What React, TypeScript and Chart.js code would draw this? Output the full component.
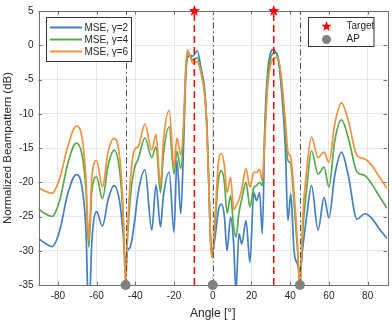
import React, { useEffect, useRef } from "react";
import { Chart, registerables } from "chart.js";

Chart.register(...registerables);

// ---- data ----
const ANGLES = [
  -90, -86.5, -83, -79, -75, -70.5, -67.5, -65.5, -64, -62.5, -60, -57, -54, -51, -48, -46.3, -45, -44, -42.5, -40.5,
  -38.5, -35, -31.5, -29.3, -27, -25.5, -22.5, -20, -18.5, -16.5, -15, -14, -13, -11.5, -10.3, -8, -6, -4.3, -3, -2,
  -1, 0, 1.2, 3, 4.5, 6, 7.4, 9.2, 10.8, 12, 13.5, 15, 17.2, 19.2, 21.2, 22.6, 24.2, 25.6, 27, 28.5,
  30, 31.2, 32.5, 33.5, 35.5, 37.5, 38.8, 40.3, 42, 43.8, 45, 46.5, 48.5, 51, 54.4, 57.5, 60, 63, 66.5, 70,
  74.5, 78.5, 82, 86, 90,
];
const MSE_G2 = [
  -28.2, -28.9, -29.4, -27.0, -21.8, -18.9, -20.8, -27, -40, -29, -24.3, -26.4, -22.5, -20.5, -23, -27.5, -32, -30, -29.4, -26,
  -21.5, -18.2, -27, -20.4, -26.5, -22, -18.5, -27.3, -16.8, -24.6, -14, -5, -1.7, -1.5, -1.6, -0.8, -3.5, -6.2, -12, -20.5,
  -29, -30, -28, -24, -23.2, -25, -30, -25.1, -29, -36, -27.5, -29, -25.6, -31.7, -21.5, -22.7, -21.5, -27.5, -11, -3.5,
  -1.0, -0.6, -1.0, -1.6, -6.5, -15, -25.6, -21.7, -30, -32, -33, -29.5, -25, -20.5, -27, -22.2, -25.2, -19, -15.6, -19,
  -25.4, -24.6, -25.2, -26.8, -28.2,
];
const MSE_G4 = [
  -23.9, -24.6, -25.0, -22.6, -17.4, -14.3, -16.0, -21, -29.5, -21.5, -19.2, -22.4, -17.5, -15.3, -18.5, -25, -34, -28, -22, -18,
  -16.6, -13.5, -16.4, -14.8, -21.5, -16, -11.9, -18.8, -15.5, -18, -12, -4.3, -1.1, -1.6, -2.2, -1.8, -3.8, -6.5, -12, -20.5,
  -29, -30.5, -26, -19.5, -18.3, -20, -24.5, -22, -26.5, -28, -24.5, -22.5, -20, -23.6, -20.8, -20.5, -20, -20.5, -12, -4.5,
  -1.8, -1.2, -1.1, -1.5, -5.5, -12.5, -16.8, -17.3, -23, -30, -35.5, -27, -21, -15.4, -18.8, -17.8, -20.7, -14, -10.9, -13.5,
  -18.5, -19, -20.2, -22, -23.8,
];
const MSE_G6 = [
  -20.8, -21.3, -21.6, -19.4, -14.9, -11.8, -13.5, -19.5, -28.5, -19.5, -16.8, -20.7, -15.5, -13.6, -16.5, -24, -35.5, -27, -19.5, -15.3,
  -14.8, -11.5, -15.3, -13.0, -20.5, -14, -9.5, -17.8, -13.5, -16, -11, -3.5, -0.7, -1.8, -2.6, -2.4, -4.2, -7, -12.5, -21,
  -29.5, -31, -25, -17, -15.8, -17.5, -21.5, -19.3, -24, -23.5, -22.6, -21, -18, -20.7, -18.5, -18.6, -18.1, -19.8, -13, -5.5,
  -2.7, -2.0, -1.8, -1.7, -4.8, -11, -15.5, -16.4, -21.5, -29, -36, -25, -18.3, -13.4, -16.4, -15.6, -17.1, -11.5, -8.4, -11,
  -16.1, -16.6, -17.5, -19.2, -20.9,
];
const SERIES_LABELS = ["MSE, \u03b3=2", "MSE, \u03b3=4", "MSE, \u03b3=6"];
const TARGET_ANGLES = [-9.5, 31.5];
const AP_ANGLES = [-45, 0, 45];
const MARKER_LABELS = ["Target", "AP"];
const X_TICKS = [-80, -60, -40, -20, 0, 20, 40, 60, 80];
const Y_TICKS = [-35, -30, -25, -20, -15, -10, -5, 0, 5];
const X_RANGE = [-90, 90];
const Y_RANGE = [-35, 5];

const COLORS = ["#437fc0", "#56a94b", "#f3913f"];
const TARGET_COLOR = "#ff0000";
const AP_COLOR = "#808080";
const FONT = "'Liberation Sans', Arial, Helvetica, sans-serif";
const TEXT_COLOR = "#262626";

function starPath(ctx: CanvasRenderingContext2D, cx: number, cy: number, R: number, r: number) {
  ctx.beginPath();
  for (let i = 0; i < 10; i++) {
    const rad = i % 2 === 0 ? R : r;
    const ang = -Math.PI / 2 + (i * Math.PI) / 5;
    const px = cx + rad * Math.cos(ang);
    const py = cy + rad * Math.sin(ang);
    if (i === 0) ctx.moveTo(px, py);
    else ctx.lineTo(px, py);
  }
  ctx.closePath();
}

const extras = {
  id: "extras",
  afterDatasetsDraw(chart: any) {
    const { ctx, scales } = chart;
    const x = scales.x;
    const y = scales.y;
    const yTop = y.getPixelForValue(Y_RANGE[1]);
    const yBot = y.getPixelForValue(Y_RANGE[0]);
    ctx.save();
    // AP dash-dot lines
    ctx.strokeStyle = "#505050";
    ctx.lineWidth = 1;
    ctx.setLineDash([6, 3, 1.5, 3]);
    AP_ANGLES.forEach((v) => {
      const px = Math.round(x.getPixelForValue(v)) + 0.5;
      ctx.beginPath();
      ctx.moveTo(px, yBot);
      ctx.lineTo(px, yTop);
      ctx.stroke();
    });
    // target dashed lines
    ctx.strokeStyle = TARGET_COLOR;
    ctx.lineWidth = 1.5;
    ctx.setLineDash([7, 4]);
    TARGET_ANGLES.forEach((v) => {
      const px = x.getPixelForValue(v);
      ctx.beginPath();
      ctx.moveTo(px, yBot);
      ctx.lineTo(px, yTop);
      ctx.stroke();
    });
    ctx.setLineDash([]);
    // frame
    const a = chart.chartArea;
    ctx.strokeStyle = "#6e6e6e";
    ctx.lineWidth = 1;
    ctx.strokeRect(Math.round(a.left) + 0.5, Math.round(a.top) + 0.5, Math.round(a.right - a.left), Math.round(a.bottom - a.top));
    // inward ticks
    const tl = 3.5;
    X_TICKS.forEach((v) => {
      const px = Math.round(x.getPixelForValue(v)) + 0.5;
      ctx.beginPath();
      ctx.moveTo(px, a.bottom);
      ctx.lineTo(px, a.bottom - tl);
      ctx.moveTo(px, a.top);
      ctx.lineTo(px, a.top + tl);
      ctx.stroke();
    });
    Y_TICKS.forEach((v) => {
      const py = Math.round(y.getPixelForValue(v)) + 0.5;
      ctx.beginPath();
      ctx.moveTo(a.left, py);
      ctx.lineTo(a.left + tl, py);
      ctx.moveTo(a.right, py);
      ctx.lineTo(a.right - tl, py);
      ctx.stroke();
    });
    // markers
    ctx.fillStyle = TARGET_COLOR;
    TARGET_ANGLES.forEach((v) => {
      starPath(ctx, x.getPixelForValue(v), yTop, 6, 2.5);
      ctx.fill();
    });
    ctx.fillStyle = AP_COLOR;
    AP_ANGLES.forEach((v) => {
      ctx.beginPath();
      ctx.arc(x.getPixelForValue(v), yBot, 5, 0, Math.PI * 2);
      ctx.fill();
    });
    ctx.restore();
  },
  afterDraw(chart: any) {
    const { ctx } = chart;
    ctx.save();
    ctx.font = `10px ${FONT}`;
    ctx.textBaseline = "middle";
    ctx.textAlign = "left";
    // legend 1
    ctx.fillStyle = "#ffffff";
    ctx.fillRect(46.5, 17.5, 85, 44);
    ctx.strokeStyle = "#333333";
    ctx.lineWidth = 1;
    ctx.strokeRect(46.5, 17.5, 85, 44);
    const rows = [27.5, 39.5, 51.5];
    SERIES_LABELS.forEach((lab, i) => {
      ctx.strokeStyle = COLORS[i];
      ctx.lineWidth = 2;
      ctx.beginPath();
      ctx.moveTo(50, rows[i]);
      ctx.lineTo(82, rows[i]);
      ctx.stroke();
      ctx.fillStyle = TEXT_COLOR;
      ctx.fillText(lab, 84.5, rows[i] + 0.5);
    });
    // legend 2
    ctx.fillStyle = "#ffffff";
    ctx.fillRect(308.5, 17.5, 65.5, 29);
    ctx.strokeStyle = "#333333";
    ctx.lineWidth = 1;
    ctx.strokeRect(308.5, 17.5, 65.5, 29);
    ctx.fillStyle = TARGET_COLOR;
    starPath(ctx, 326.5, 26.5, 5.5, 2.3);
    ctx.fill();
    ctx.fillStyle = AP_COLOR;
    ctx.beginPath();
    ctx.arc(326.5, 39.5, 4.5, 0, Math.PI * 2);
    ctx.fill();
    ctx.fillStyle = TEXT_COLOR;
    ctx.fillText(MARKER_LABELS[0], 346.5, 26.5);
    ctx.fillText(MARKER_LABELS[1], 346.5, 39.5);
    ctx.restore();
  },
};

export default function App() {
  const ref = useRef<HTMLCanvasElement | null>(null);
  useEffect(() => {
    if (!ref.current) return;
    Chart.defaults.font.family = FONT;
    const series = [MSE_G2, MSE_G4, MSE_G6];
    const chart = new Chart(ref.current, {
      type: "line",
      data: {
        datasets: series.map((vals, i) => ({
          label: SERIES_LABELS[i],
          data: ANGLES.map((a, k) => ({ x: a, y: vals[k] })),
          borderColor: COLORS[i],
          backgroundColor: COLORS[i],
          borderWidth: 1.7,
          pointRadius: 0,
          cubicInterpolationMode: "monotone" as const,
          order: 3 - i,
          clip: 0,
        })),
      },
      options: {
        animation: false,
        responsive: false,
        devicePixelRatio: 1,
        layout: { padding: { top: 11, right: 5, left: 0, bottom: 0 } },
        plugins: { legend: { display: false }, tooltip: { enabled: false } },
        scales: {
          x: {
            type: "linear",
            min: X_RANGE[0],
            max: X_RANGE[1],
            afterBuildTicks: (s: any) => {
              s.ticks = X_TICKS.map((v) => ({ value: v }));
            },
            afterFit: (s: any) => {
              s.height = 37;
            },
            ticks: { color: TEXT_COLOR, font: { size: 10 }, padding: 5, maxRotation: 0 },
            grid: { color: "#e6e6e6", drawTicks: false },
            border: { display: false },
            title: { display: true, text: "Angle [\u00b0]", color: TEXT_COLOR, font: { size: 12 }, padding: { top: 0, bottom: 1 } },
          },
          y: {
            type: "linear",
            min: Y_RANGE[0],
            max: Y_RANGE[1],
            afterBuildTicks: (s: any) => {
              s.ticks = Y_TICKS.map((v) => ({ value: v }));
            },
            afterFit: (s: any) => {
              s.width = 38.5;
            },
            ticks: { color: TEXT_COLOR, font: { size: 10 }, padding: 5 },
            grid: { color: "#e6e6e6", drawTicks: false },
            border: { display: false },
            title: {
              display: true,
              text: "Normalized Beampattern (dB)",
              color: TEXT_COLOR,
              font: { size: 11.5 },
              padding: { top: 1, bottom: 0 },
            },
          },
        },
      },
      plugins: [extras],
    });
    return () => chart.destroy();
  }, []);
  return (
    <div style={{ position: "fixed", left: 0, top: 0, width: 392, height: 322, background: "#fff" }}>
      <canvas ref={ref} width={392} height={322} style={{ width: 392, height: 322 }} />
    </div>
  );
}
